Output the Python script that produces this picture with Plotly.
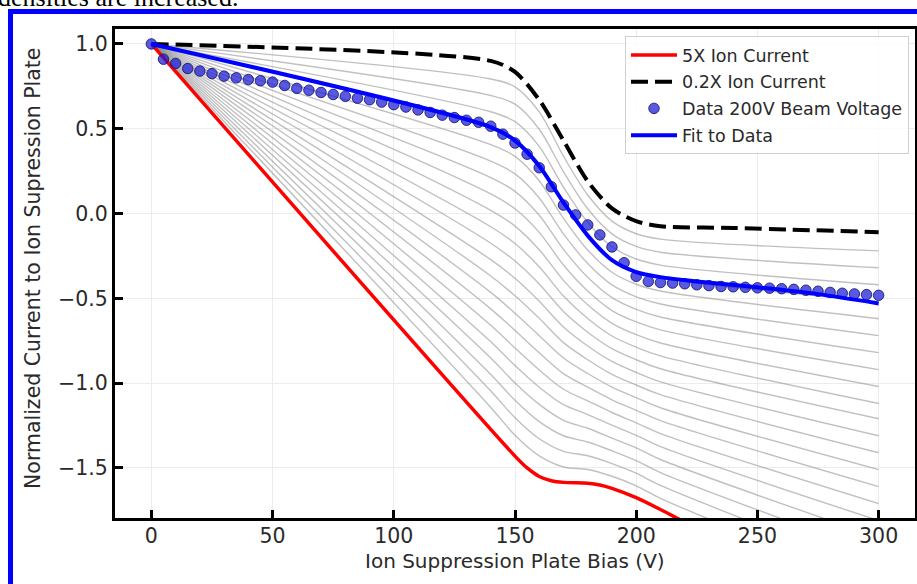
import plotly.graph_objects as go

# ---------------- data ----------------
KNOT_X = [0, 140, 150, 160, 170, 180, 190, 200, 210, 300]

RED_X = [0, 150, 155, 160, 165, 170, 180, 185, 190, 200, 210, 220]
RED_Y = [1.0, -1.43, -1.50, -1.55, -1.575, -1.585, -1.59, -1.60, -1.62, -1.675, -1.745, -1.82]

BLACK_X = [0, 140, 150, 160, 170, 180, 190, 200, 210, 240, 300]
BLACK_Y = [1.0, 0.90, 0.835, 0.67, 0.43, 0.19, 0.03, -0.045, -0.075, -0.085, -0.11]

FIT_X = [0, 140, 150, 160, 170, 180, 190, 200, 210, 225, 250, 275, 300]
FIT_Y = [1.0, 0.51, 0.43, 0.28, 0.065, -0.13, -0.275, -0.345, -0.375, -0.40, -0.435, -0.475, -0.53]

DATA_X = list(range(0, 301, 5))
DATA_Y = [1.00, 0.91, 0.885, 0.855, 0.84, 0.825, 0.81, 0.80, 0.79, 0.783,
          0.775, 0.755, 0.738, 0.727, 0.714, 0.702, 0.691, 0.68, 0.671, 0.657,
          0.642, 0.628, 0.611, 0.596, 0.58, 0.566, 0.55, 0.538, 0.515, 0.468,
          0.416, 0.35, 0.27, 0.158, 0.05, -0.008, -0.067, -0.126, -0.197, -0.29,
          -0.37, -0.40, -0.407, -0.41, -0.414, -0.42, -0.425, -0.43, -0.432, -0.435,
          -0.438, -0.44, -0.443, -0.447, -0.452, -0.458, -0.465, -0.47, -0.474, -0.478,
          -0.482]

# grey family of curves, values at KNOT_X
GREY_Y = [
    [1.0, 0.793, 0.747, 0.599, 0.338, 0.109, -0.045, -0.119, -0.151, -0.22],
    [1.0, 0.696, 0.645, 0.497, 0.247, 0.028, -0.120, -0.194, -0.228, -0.32],
    [1.0, 0.600, 0.542, 0.396, 0.155, -0.053, -0.196, -0.268, -0.304, -0.42],
    [1.0, 0.503, 0.439, 0.294, 0.063, -0.134, -0.271, -0.342, -0.381, -0.52],
    [1.0, 0.406, 0.337, 0.193, -0.028, -0.215, -0.346, -0.417, -0.457, -0.62],
    [1.0, 0.309, 0.234, 0.092, -0.120, -0.295, -0.421, -0.491, -0.533, -0.72],
    [1.0, 0.212, 0.131, -0.010, -0.211, -0.376, -0.496, -0.565, -0.610, -0.82],
    [1.0, 0.116, 0.028, -0.111, -0.303, -0.457, -0.572, -0.639, -0.686, -0.92],
    [1.0, 0.019, -0.074, -0.213, -0.394, -0.538, -0.647, -0.714, -0.763, -1.02],
    [1.0, -0.078, -0.177, -0.314, -0.486, -0.619, -0.722, -0.788, -0.839, -1.12],
    [1.0, -0.175, -0.280, -0.415, -0.578, -0.700, -0.797, -0.862, -0.915, -1.21],
    [1.0, -0.272, -0.382, -0.517, -0.669, -0.781, -0.872, -0.937, -0.992, -1.31],
    [1.0, -0.368, -0.485, -0.618, -0.761, -0.862, -0.948, -1.011, -1.068, -1.41],
    [1.0, -0.465, -0.588, -0.720, -0.852, -0.943, -1.023, -1.085, -1.145, -1.51],
    [1.0, -0.562, -0.690, -0.821, -0.944, -1.024, -1.098, -1.160, -1.221, -1.61],
    [1.0, -0.659, -0.793, -0.922, -1.036, -1.104, -1.173, -1.234, -1.297, -1.71],
    [1.0, -0.756, -0.896, -1.024, -1.127, -1.185, -1.248, -1.308, -1.374, -1.81],
    [1.0, -0.852, -0.999, -1.125, -1.219, -1.266, -1.324, -1.382, -1.450, -1.91],
    [1.0, -0.949, -1.101, -1.227, -1.310, -1.347, -1.399, -1.457, -1.527, -2.01],
    [1.0, -1.046, -1.204, -1.328, -1.402, -1.428, -1.474, -1.531, -1.603, -2.11],
    [1.0, -1.143, -1.307, -1.429, -1.494, -1.509, -1.549, -1.605, -1.679, -2.21],
]

X_TICKS = [0, 50, 100, 150, 200, 250, 300]
Y_TICKS = [-1.5, -1.0, -0.5, 0.0, 0.5, 1.0]
Y_TICK_TEXT = ["\u22121.5", "\u22121.0", "\u22120.5", "0.0", "0.5", "1.0"]

# ---------------- figure ----------------
W, H = 917, 584
L, R, T, B = 115, 2, 29, 66
PW, PH = W - L - R, H - T - B


def px_x(p):
    return (p - L) / PW


def px_y(p):
    return (H - B - p) / PH


fig = go.Figure()

for gy in GREY_Y:
    fig.add_trace(go.Scatter(x=KNOT_X, y=gy, mode="lines", showlegend=False,
                             hoverinfo="skip",
                             line=dict(color="rgba(140,140,140,0.55)", width=1.4,
                                       shape="spline", smoothing=0.9)))

fig.add_trace(go.Scatter(x=RED_X, y=RED_Y, mode="lines", name="5X Ion Current",
                         legendgroup="a",
                         line=dict(color="#ff0000", width=3.5, shape="spline", smoothing=0.8)))
fig.add_trace(go.Scatter(x=BLACK_X, y=BLACK_Y, mode="lines", name="0.2X Ion Current",
                         legendgroup="b",
                         line=dict(color="#000000", width=4, dash="17px,7px",
                                   shape="spline", smoothing=0.8)))
fig.add_trace(go.Scatter(x=DATA_X, y=DATA_Y, mode="markers", name="Data 200V Beam Voltage",
                         legendgroup="c",
                         marker=dict(size=10.5, color="rgba(25,25,215,0.72)",
                                     line=dict(color="rgba(20,20,110,0.85)", width=1))))
fig.add_trace(go.Scatter(x=FIT_X, y=FIT_Y, mode="lines", name="Fit to Data",
                         legendgroup="d",
                         line=dict(color="#0000ff", width=4, shape="spline", smoothing=0.8)))

axis_common = dict(showline=True, linecolor="black", linewidth=3, mirror=True,
                   ticks="inside", ticklen=8, tickwidth=2.5, tickcolor="black",
                   showgrid=True, gridcolor="#ececec", gridwidth=1, zeroline=False,
                   tickfont=dict(family="DejaVu Sans", size=20.5, color="#2a2a2a"))

fig.update_xaxes(range=[-15, 315], tickvals=X_TICKS, ticktext=[str(v) for v in X_TICKS],
                 ticklabelstandoff=-3, **axis_common)
fig.update_yaxes(range=[-1.795, 1.088], tickvals=Y_TICKS, ticktext=Y_TICK_TEXT,
                 **axis_common)

fig.update_layout(
    width=W, height=H,
    margin=dict(l=L, r=R, t=T, b=B, autoexpand=False),
    paper_bgcolor="white", plot_bgcolor="white",
    font=dict(family="DejaVu Sans", color="#2a2a2a"),
    legend=dict(x=px_x(909), y=px_y(36), xanchor="right", yanchor="top",
                bgcolor="rgba(255,255,255,0.85)", bordercolor="#d0d0d0", borderwidth=1,
                font=dict(family="DejaVu Sans", size=17.5, color="#2a2a2a"),
                traceorder="grouped", tracegroupgap=1, itemwidth=46),
    showlegend=True,
    annotations=[
        dict(text="Ion Suppression Plate Bias (V)", xref="paper", yref="paper",
             x=px_x(515), y=px_y(561), xanchor="center", yanchor="middle",
             showarrow=False, font=dict(family="DejaVu Sans", size=20, color="#2a2a2a")),
        dict(text="Normalized Current to Ion Supression Plate", xref="paper", yref="paper",
             x=px_x(33), y=px_y(269), xanchor="center", yanchor="middle", textangle=-90,
             showarrow=False, font=dict(family="DejaVu Sans", size=20.5, color="#2a2a2a")),
        dict(text="densities are increased.", xref="paper", yref="paper",
             x=px_x(-4), y=px_y(14), xanchor="left", yanchor="bottom",
             showarrow=False, font=dict(family="Liberation Serif", size=26, color="black")),
    ],
    shapes=[
        dict(type="rect", xref="paper", yref="paper", x0=px_x(8), x1=px_x(13),
             y0=px_y(590), y1=px_y(9), fillcolor="#0000ff", line=dict(width=0), layer="above"),
        dict(type="rect", xref="paper", yref="paper", x0=px_x(8), x1=px_x(920),
             y0=px_y(14), y1=px_y(9), fillcolor="#0000ff", line=dict(width=0), layer="above"),
    ],
)

fig.write_html("out.html")
